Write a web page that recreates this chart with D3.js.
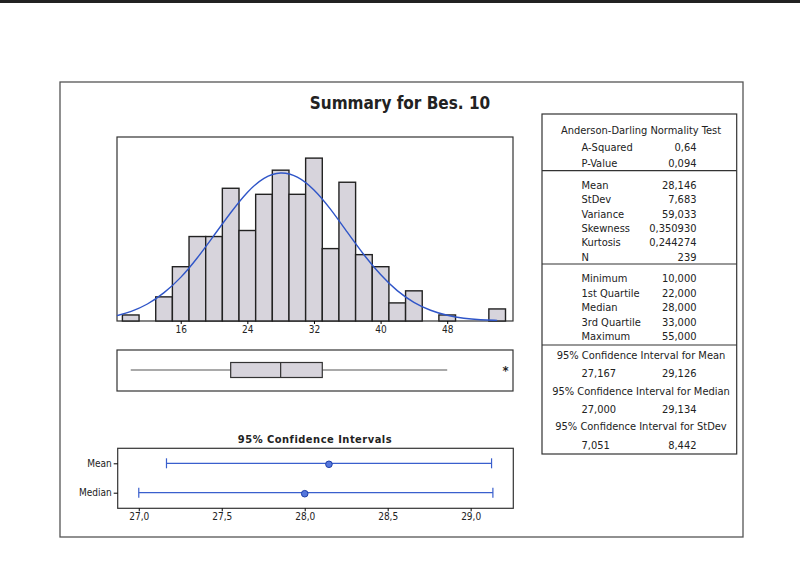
<!DOCTYPE html>
<html>
<head>
<meta charset="utf-8">
<script src="https://d3js.org/d3.v7.min.js"></script>
<style>
  body { margin: 0; background: #fff; }
  text { font-family: "DejaVu Sans Condensed", "DejaVu Sans", sans-serif; fill: #222; }
</style>
</head>
<body>
<script>
// histogram bins (centre, count)
var binCenters = [10, 12, 14, 16, 18, 20, 22, 24, 26, 28, 30, 32, 34, 36, 38, 40, 42, 44, 46, 48, 50, 52, 54];
var binCounts  = [1, 0, 4, 9, 14, 14, 22, 15, 21, 25, 21, 27, 12, 23, 11, 9, 3, 5, 0, 1, 0, 0, 2];
var histTicks = [16, 24, 32, 40, 48];

// fitted curve
var curveX = [8.35, 10, 12, 14, 16, 18, 20, 22, 24, 26, 28, 30, 32, 34, 36, 38, 40, 42, 44, 46, 48, 50, 52, 54];
var curveY = [0.9, 1.5, 2.7, 4.6, 7.1, 10.4, 14.2, 18.0, 21.5, 23.9, 24.8, 24.1, 21.9, 18.6, 14.7, 10.9, 7.6, 4.9, 3.0, 1.7, 0.9, 0.4, 0.2, 0.1];

// boxplot: whisker low, Q1, median, Q3, whisker high, outliers
var boxStats = [10, 22, 28, 33, 48];
var outliers = [55];

// confidence intervals
var ciNames = ["Mean", "Median"];
var ciLow = [27.167, 27.000];
var ciMid = [28.146, 28.000];
var ciHigh = [29.126, 29.134];
var ciTicks = [27.0, 27.5, 28.0, 28.5, 29.0];

// stats table
var adLabels = ["A-Squared", "P-Value"];
var adValues = ["0,64", "0,094"];
var momentLabels = ["Mean", "StDev", "Variance", "Skewness", "Kurtosis", "N"];
var momentValues = ["28,146", "7,683", "59,033", "0,350930", "0,244274", "239"];
var quantLabels = ["Minimum", "1st Quartile", "Median", "3rd Quartile", "Maximum"];
var quantValues = ["10,000", "22,000", "28,000", "33,000", "55,000"];
var ciTitles = ["95% Confidence Interval for Mean", "95% Confidence Interval for Median", "95% Confidence Interval for StDev"];
var ciTableLow = ["27,167", "27,000", "7,051"];
var ciTableHigh = ["29,126", "29,134", "8,442"];

var width = 800, height = 566;
var comma = d3.formatLocale({decimal: ",", thousands: ".", grouping: [3], currency: ["", ""]});

var svg = d3.select("body").append("svg")
    .attr("width", width)
    .attr("height", height);

// scan edge
svg.append("rect").attr("x", 0).attr("y", 0).attr("width", width).attr("height", 3).attr("fill", "#222");

// outer frame
svg.append("rect")
    .attr("x", 60).attr("y", 82).attr("width", 683).attr("height", 455)
    .attr("fill", "none").attr("stroke", "#555").attr("stroke-width", 1.3);

svg.append("text")
    .attr("x", 400).attr("y", 109)
    .attr("text-anchor", "middle")
    .style("font-size", "17px").style("font-weight", "bold")
    .text("Summary for Bes. 10");

// ---- histogram ----
var x = d3.scaleLinear().domain([8.35, 55.9]).range([117, 513]);
var y = d3.scaleLinear().domain([0, 30.5]).range([321, 137]);

svg.append("rect")
    .attr("x", 117).attr("y", 137).attr("width", 396).attr("height", 184)
    .attr("fill", "none").attr("stroke", "#333").attr("stroke-width", 1.2);

svg.selectAll(".bar")
    .data(binCenters.filter(function (d, i) { return binCounts[i] > 0; }))
    .enter().append("rect")
    .attr("class", "bar")
    .attr("x", function (d) { return x(d - 1); })
    .attr("width", function (d) { return x(d + 1) - x(d - 1); })
    .attr("y", function (d) { return y(binCounts[binCenters.indexOf(d)]); })
    .attr("height", function (d) { return y(0) - y(binCounts[binCenters.indexOf(d)]); })
    .attr("fill", "#d7d4dc")
    .attr("stroke", "#222")
    .attr("stroke-width", 1.4);

var line = d3.line()
    .x(function (d, i) { return x(curveX[i]); })
    .y(function (d) { return y(d); })
    .curve(d3.curveBasis);

svg.append("path")
    .datum(curveY)
    .attr("d", line)
    .attr("fill", "none")
    .attr("stroke", "#2f55c8")
    .attr("stroke-width", 1.4);

var hAxis = svg.append("g")
    .attr("transform", "translate(0,321)")
    .call(d3.axisBottom(x).tickValues(histTicks).tickSize(3).tickFormat(d3.format("d")));
hAxis.select(".domain").remove();
hAxis.selectAll("text").style("font-size", "10px").attr("dy", "0.6em");

// ---- boxplot ----
svg.append("rect")
    .attr("x", 117).attr("y", 350).attr("width", 396).attr("height", 41)
    .attr("fill", "none").attr("stroke", "#333").attr("stroke-width", 1.2);

var boxY = 370;
svg.append("line")
    .attr("x1", x(boxStats[0])).attr("x2", x(boxStats[1]))
    .attr("y1", boxY).attr("y2", boxY)
    .attr("stroke", "#555").attr("stroke-width", 1.2);
svg.append("line")
    .attr("x1", x(boxStats[3])).attr("x2", x(boxStats[4]))
    .attr("y1", boxY).attr("y2", boxY)
    .attr("stroke", "#555").attr("stroke-width", 1.2);
svg.append("rect")
    .attr("x", x(boxStats[1])).attr("y", boxY - 7.5)
    .attr("width", x(boxStats[3]) - x(boxStats[1])).attr("height", 15)
    .attr("fill", "#d7d4dc").attr("stroke", "#333").attr("stroke-width", 1.2);
svg.append("line")
    .attr("x1", x(boxStats[2])).attr("x2", x(boxStats[2]))
    .attr("y1", boxY - 7.5).attr("y2", boxY + 7.5)
    .attr("stroke", "#333").attr("stroke-width", 1.2);

svg.selectAll(".outlier")
    .data(outliers)
    .enter().append("text")
    .attr("class", "outlier")
    .attr("x", function (d) { return x(d); })
    .attr("y", boxY + 5)
    .attr("text-anchor", "middle")
    .style("font-size", "13px").style("font-weight", "bold")
    .text("*");

// ---- confidence intervals ----
var cx = d3.scaleLinear().domain([26.873, 29.257]).range([117.7, 513.3]);
var cy = d3.scalePoint().domain(ciNames).range([463.3, 492.7]);

svg.append("text")
    .attr("x", 315).attr("y", 443)
    .attr("text-anchor", "middle")
    .style("font-size", "11px").style("font-weight", "bold").style("letter-spacing", "0.5px")
    .text("95% Confidence Intervals");

svg.append("rect")
    .attr("x", 117.7).attr("y", 448.3).attr("width", 395.6).attr("height", 60)
    .attr("fill", "none").attr("stroke", "#333").attr("stroke-width", 1.2);

var ciAxis = svg.append("g")
    .attr("transform", "translate(0,508.3)")
    .call(d3.axisBottom(cx).tickValues(ciTicks).tickSize(3).tickFormat(comma.format(".1f")));
ciAxis.select(".domain").remove();
ciAxis.selectAll("text").style("font-size", "10px").attr("dy", "0.6em");

var ciLeft = svg.append("g")
    .attr("transform", "translate(117.7,0)")
    .call(d3.axisLeft(cy).tickSize(4).tickPadding(2));
ciLeft.select(".domain").remove();
ciLeft.selectAll("text").style("font-size", "10px");

var ciRows = svg.selectAll(".ci")
    .data(ciNames)
    .enter().append("g")
    .attr("class", "ci");

ciRows.append("line")
    .attr("x1", function (d, i) { return cx(ciLow[i]); })
    .attr("x2", function (d, i) { return cx(ciHigh[i]); })
    .attr("y1", function (d) { return cy(d); })
    .attr("y2", function (d) { return cy(d); })
    .attr("stroke", "#3a5fcd").attr("stroke-width", 1.2);
ciRows.append("line")
    .attr("x1", function (d, i) { return cx(ciLow[i]); })
    .attr("x2", function (d, i) { return cx(ciLow[i]); })
    .attr("y1", function (d) { return cy(d) - 5; })
    .attr("y2", function (d) { return cy(d) + 5; })
    .attr("stroke", "#3a5fcd").attr("stroke-width", 1.2);
ciRows.append("line")
    .attr("x1", function (d, i) { return cx(ciHigh[i]); })
    .attr("x2", function (d, i) { return cx(ciHigh[i]); })
    .attr("y1", function (d) { return cy(d) - 5; })
    .attr("y2", function (d) { return cy(d) + 5; })
    .attr("stroke", "#3a5fcd").attr("stroke-width", 1.2);
ciRows.append("circle")
    .attr("cx", function (d, i) { return cx(ciMid[i]); })
    .attr("cy", function (d) { return cy(d) + 1; })
    .attr("r", 3.3)
    .attr("fill", "#5577dd").attr("stroke", "#1f3fa8").attr("stroke-width", 1);

// ---- stats table ----
var tbl = svg.append("g");
tbl.append("rect")
    .attr("x", 542).attr("y", 114).attr("width", 194.7).attr("height", 340)
    .attr("fill", "none").attr("stroke", "#333").attr("stroke-width", 1.2);
[170.7, 264, 345].forEach(function (yy) {
    tbl.append("line").attr("x1", 542).attr("x2", 736.7).attr("y1", yy).attr("y2", yy)
        .attr("stroke", "#333").attr("stroke-width", 1.2);
});

var fs = "11px";
function centered(txt, yy) {
    tbl.append("text").attr("x", 641).attr("y", yy).attr("dy", "0.35em")
        .attr("text-anchor", "middle").style("font-size", fs).text(txt);
}
function rows(labels, values, y0, step) {
    labels.forEach(function (l, i) {
        tbl.append("text").attr("x", 581.5).attr("y", y0 + i * step).attr("dy", "0.35em")
            .style("font-size", fs).text(l);
        tbl.append("text").attr("x", 696.5).attr("y", y0 + i * step).attr("dy", "0.35em")
            .attr("text-anchor", "end").style("font-size", fs).text(values[i]);
    });
}

centered("Anderson-Darling Normality Test", 130);
rows(adLabels, adValues, 147.3, 15.4);
rows(momentLabels, momentValues, 185, 14.35);
rows(quantLabels, quantValues, 278.3, 14.45);

var ciTitleY = [355, 391, 426];
var ciValY = [373.3, 409, 445];
ciTitles.forEach(function (t, i) {
    centered(t, ciTitleY[i]);
    tbl.append("text").attr("x", 581.5).attr("y", ciValY[i]).attr("dy", "0.35em")
        .style("font-size", fs).text(ciTableLow[i]);
    tbl.append("text").attr("x", 696.5).attr("y", ciValY[i]).attr("dy", "0.35em")
        .attr("text-anchor", "end").style("font-size", fs).text(ciTableHigh[i]);
});
</script>
</body>
</html>
